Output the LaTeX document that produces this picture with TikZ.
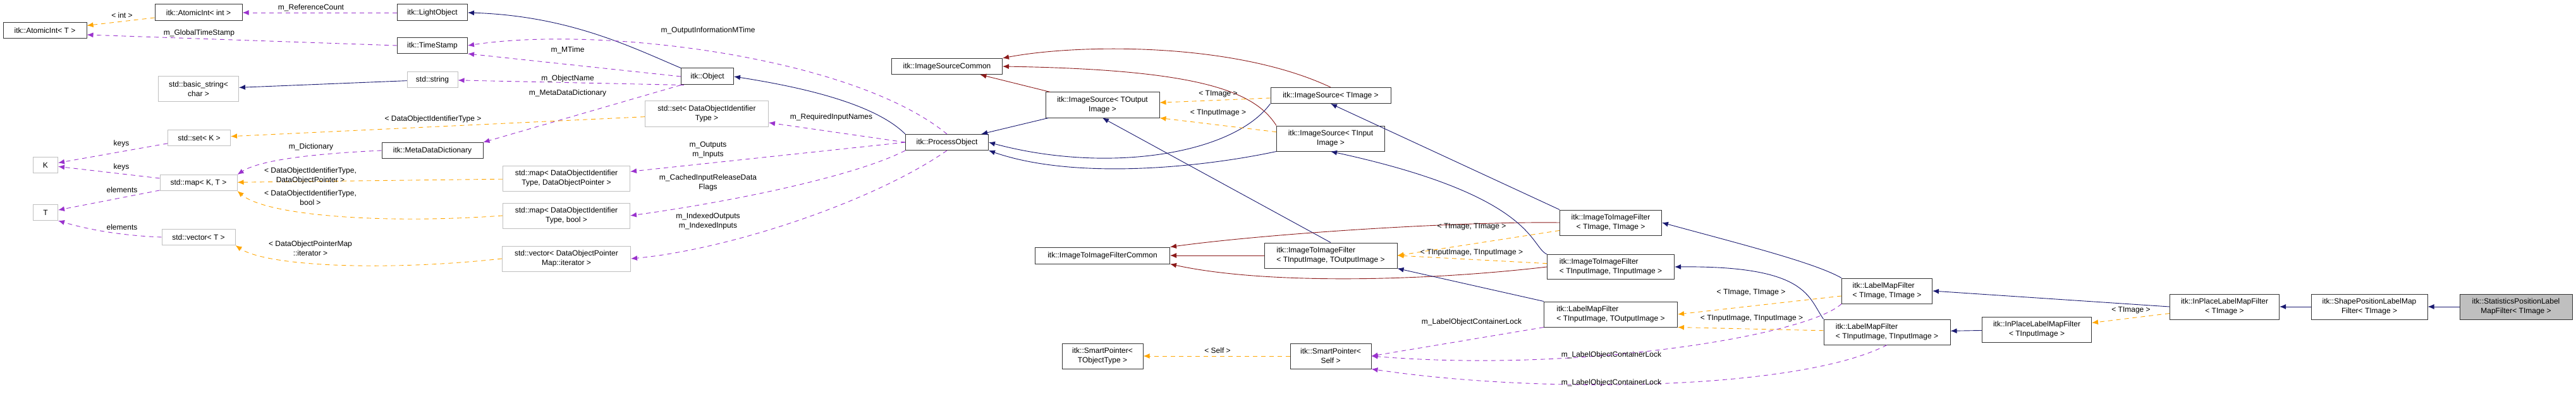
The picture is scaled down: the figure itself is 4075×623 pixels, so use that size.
\documentclass[tikz,border=0pt]{standalone}
\usepackage{fontspec}
\setmainfont{Liberation Sans}
\usetikzlibrary{arrows.meta}
\definecolor{inhcol}{RGB}{25,25,112}
\definecolor{comcol}{RGB}{139,26,26}
\definecolor{tplcol}{RGB}{255,165,0}
\definecolor{usecol}{RGB}{154,50,205}
\definecolor{boxgray}{RGB}{191,191,191}
\tikzset{
  cls/.style={draw=black!80, line width=1pt, fill=white, inner sep=2pt, align=center, font=\fontsize{12}{15}\selectfont},
  ext/.style={cls, draw=boxgray},
  lbl/.style={inner sep=0pt, align=center, font=\fontsize{12}{15}\selectfont},
  tip/.style={-{Latex[length=10pt,width=8pt]}},
  inh/.style={tip, inhcol, line width=0.9pt},
  com/.style={tip, comcol, line width=0.9pt},
  tpl/.style={tip, tplcol, line width=0.9pt, dash pattern=on 7pt off 6pt},
  use/.style={tip, usecol, line width=0.9pt, dash pattern=on 7pt off 6pt}
}
\begin{document}
\begin{tikzpicture}[x=1pt, y=-1pt]
  \useasboundingbox (0,0) rectangle (4075,623);
  % classes, left part
  \node[cls, minimum width=132pt, minimum height=25pt] (atomT) at (71,48) {itk::AtomicInt< T >};
  \node[cls, minimum width=138pt, minimum height=26pt] (atomInt) at (314,20) {itk::AtomicInt< int >};
  \node[cls, minimum width=111pt, minimum height=26pt] (light) at (684,20) {itk::LightObject};
  \node[cls, minimum width=111pt, minimum height=25pt] (stamp) at (684,72) {itk::TimeStamp};
  \node[ext, minimum width=127pt, minimum height=40pt] (bstr) at (314,141) {std::basic\_string<\\char >};
  \node[ext, minimum width=80pt, minimum height=25pt] (str) at (684,126) {std::string};
  \node[ext, minimum width=99pt, minimum height=25pt] (setK) at (315,218) {std::set< K >};
  \node[ext, minimum width=39pt, minimum height=25pt] (K) at (72,261) {K};
  \node[ext, minimum width=122pt, minimum height=25pt] (mapKT) at (314,289) {std::map< K, T >};
  \node[ext, minimum width=39pt, minimum height=25pt] (T) at (72,336) {T};
  \node[ext, minimum width=116pt, minimum height=25pt] (vecT) at (314,375) {std::vector< T >};
  \node[cls, minimum width=160pt, minimum height=25pt] (mdd) at (684,238) {itk::MetaDataDictionary};
  \node[cls, minimum width=83pt, minimum height=26pt] (obj) at (1119,121) {itk::Object};
  \node[ext, minimum width=195pt, minimum height=40pt] (setDoi) at (1118,180) {std::set< DataObjectIdentifier\\Type >};
  \node[ext, minimum width=201pt, minimum height=40pt] (mapPtr) at (896,282) {std::map< DataObjectIdentifier\\Type, DataObjectPointer >};
  \node[ext, minimum width=201pt, minimum height=40pt] (mapBool) at (896,341) {std::map< DataObjectIdentifier\\Type, bool >};
  \node[ext, minimum width=203pt, minimum height=40pt] (vecIt) at (896,409) {std::vector< DataObjectPointer\\Map::iterator >};
  % classes, middle part
  \node[cls, minimum width=175pt, minimum height=25pt] (srcCommon) at (1498,105) {itk::ImageSourceCommon};
  \node[cls, minimum width=131pt, minimum height=25pt] (proc) at (1498,225) {itk::ProcessObject};
  \node[cls, minimum width=180pt, minimum height=40pt] (srcOut) at (1744,166) {itk::ImageSource< TOutput\\Image >};
  \node[cls, minimum width=213pt, minimum height=26pt] (filtCommon) at (1744,404) {itk::ImageToImageFilterCommon};
  \node[cls, minimum width=128pt, minimum height=40pt] (spObj) at (1744,563) {itk::SmartPointer<\\TObjectType >};
  \node[cls, minimum width=190pt, minimum height=25pt] (srcImg) at (2105,151) {itk::ImageSource< TImage >};
  \node[cls, minimum width=171pt, minimum height=40pt] (srcIn) at (2105,219) {itk::ImageSource< TInput\\Image >};
  \node[cls, minimum width=210pt, minimum height=40pt, align=left] (filtInOut) at (2105,404) {itk::ImageToImageFilter\\< TInputImage, TOutputImage >};
  \node[cls, minimum width=128pt, minimum height=40pt] (spSelf) at (2105,563) {itk::SmartPointer<\\Self >};
  \node[cls, minimum width=161pt, minimum height=40pt] (filtImg) at (2548,352) {itk::ImageToImageFilter\\< TImage, TImage >};
  \node[cls, minimum width=201pt, minimum height=39pt, align=left] (filtIn) at (2548,422) {itk::ImageToImageFilter\\< TInputImage, TInputImage >};
  \node[cls, minimum width=211pt, minimum height=40pt, align=left] (lmfInOut) at (2548,497) {itk::LabelMapFilter\\< TInputImage, TOutputImage >};
  % classes, right part
  \node[cls, minimum width=143pt, minimum height=40pt, align=left] (lmfImg) at (2985,460) {itk::LabelMapFilter\\< TImage, TImage >};
  \node[cls, minimum width=200pt, minimum height=40pt, align=left] (lmfIn) at (2985,525) {itk::LabelMapFilter\\< TInputImage, TInputImage >};
  \node[cls, minimum width=173pt, minimum height=40pt] (ipIn) at (3222,521) {itk::InPlaceLabelMapFilter\\< TInputImage >};
  \node[cls, minimum width=173pt, minimum height=40pt] (ipImg) at (3519,485) {itk::InPlaceLabelMapFilter\\< TImage >};
  \node[cls, minimum width=184pt, minimum height=40pt] (shape) at (3748,485) {itk::ShapePositionLabelMap\\Filter< TImage >};
  \node[cls, fill=boxgray, minimum width=178pt, minimum height=40pt] (stats) at (3980,485) {itk::StatisticsPositionLabel\\MapFilter< TImage >};

  % connectors
  \draw[tpl] (atomInt) -- (atomT);
  \draw[use] (stamp.west) -- (atomT.east |- 0,55);
  \draw[use] (light) -- (atomInt);
  \draw[inh] (obj.north west) .. controls (1000,75) and (900,25) .. (light.east);
  \draw[use] (obj.west) -- (stamp.south east);
  \draw[use] (proc.north) .. controls (1350,90) and (950,40) .. (stamp.east);
  \draw[inh] (str) -- (bstr);
  \draw[use] (obj.200) -- (str);
  \draw[use] (obj.south west) -- (mdd.north east);
  \draw[inh] (proc.north west) .. controls (1380,160) and (1250,135) .. (obj.east);
  \draw[tpl] (setDoi) -- (setK);
  \draw[use] (setK) -- (K);
  \draw[use] (mapKT) -- (K);
  \draw[use] (mapKT) -- (T);
  \draw[use] (vecT.west) .. controls (180,372) and (130,360) .. (T.south east);
  \draw[use] (mdd.west) .. controls (450,245) and (400,260) .. (mapKT.north east);
  \draw[tpl] (mapPtr) -- (mapKT);
  \draw[tpl] (mapBool.west) .. controls (600,355) and (420,340) .. (mapKT.south east);
  \draw[tpl] (vecIt.west) .. controls (600,430) and (420,420) .. (vecT.south east);
  \draw[use] (proc.west) -- (setDoi);
  \draw[use] (proc.west) -- (mapPtr);
  \draw[use] (proc.south west) .. controls (1350,280) and (1150,320) .. (mapBool.east);
  \draw[use] (proc.south) .. controls (1380,320) and (1150,395) .. (vecIt.east);
  \draw[com] (srcOut) -- (srcCommon);
  \draw[com] (srcImg.north) .. controls (1950,65) and (1700,70) .. (srcCommon.north east);
  \draw[com] (srcIn.north west) .. controls (1985,145) and (1900,110) .. (srcCommon.east);
  \draw[inh] (srcOut) -- (proc);
  \draw[inh] (srcImg.south west) .. controls (1950,245) and (1750,275) .. (proc.east);
  \draw[inh] (srcIn.south west) .. controls (1900,265) and (1700,285) .. (proc.south east);
  \draw[tpl] (srcImg) -- (srcOut);
  \draw[tpl] (srcIn) -- (srcOut.south east);
  \draw[inh] (filtInOut.north) -- (srcOut.south);
  \draw[com] (filtInOut) -- (filtCommon);
  \draw[com] (filtImg.west) .. controls (2300,350) and (2000,370) .. (filtCommon.north east);
  \draw[com] (filtIn.west) .. controls (2250,445) and (2000,450) .. (filtCommon.south east);
  \draw[inh] (filtImg.north west) -- (srcImg.south);
  \draw[inh] (filtIn.north west) .. controls (2420,390) and (2430,310) .. (srcIn.south);
  \draw[tpl] (filtImg) -- (filtInOut.east);
  \draw[tpl] (filtIn) -- (filtInOut.east);
  \draw[inh] (lmfInOut.north west) -- (filtInOut.south east);
  \draw[tpl] (spSelf) -- (spObj);
  \draw[use] (lmfInOut.south west) -- (spSelf.east);
  \draw[use] (lmfImg.south west) .. controls (2860,530) and (2500,590) .. (spSelf.east);
  \draw[use] (lmfIn.south) .. controls (2850,615) and (2450,625) .. (spSelf.south east);
  \draw[inh] (lmfImg.north west) .. controls (2870,415) and (2750,385) .. (filtImg.east);
  \draw[inh] (lmfIn.north west) .. controls (2860,470) and (2860,420) .. (filtIn.east);
  \draw[tpl] (lmfImg) -- (lmfInOut.east);
  \draw[tpl] (lmfIn) -- (lmfInOut.south east);
  \draw[inh] (ipImg.west) -- (lmfImg.east);
  \draw[inh] (ipIn) -- (lmfIn);
  \draw[tpl] (ipImg) -- (ipIn);
  \draw[inh] (shape) -- (ipImg);
  \draw[inh] (stats) -- (shape);

  % connector labels
  \node[lbl] (lInt) at (193,24) {< int >};
  \node[lbl] (lRef) at (492,12) {m\_ReferenceCount};
  \node[lbl] (lGlob) at (315,52) {m\_GlobalTimeStamp};
  \node[lbl] (lKeysA) at (192,227) {keys};
  \node[lbl] (lKeysB) at (192,264) {keys};
  \node[lbl] (lElemA) at (193,300) {elements};
  \node[lbl] (lElemB) at (193,359) {elements};
  \node[lbl] (lDict) at (492,232) {m\_Dictionary};
  \node[lbl] (lPtr) at (491,278) {< DataObjectIdentifierType,\\DataObjectPointer >};
  \node[lbl] (lBool) at (491,313) {< DataObjectIdentifierType,\\bool >};
  \node[lbl] (lIt) at (491,393) {< DataObjectPointerMap\\::iterator >};
  \node[lbl] (lSet) at (685,188) {< DataObjectIdentifierType >};
  \node[lbl] (lOutMT) at (1120,48) {m\_OutputInformationMTime};
  \node[lbl] (lMT) at (898,79) {m\_MTime};
  \node[lbl] (lName) at (898,124) {m\_ObjectName};
  \node[lbl] (lMdd) at (898,147) {m\_MetaDataDictionary};
  \node[lbl] (lReq) at (1315,185) {m\_RequiredInputNames};
  \node[lbl] (lIO) at (1120,237) {m\_Outputs\\m\_Inputs};
  \node[lbl] (lCache) at (1120,289) {m\_CachedInputReleaseData\\Flags};
  \node[lbl] (lIdx) at (1120,350) {m\_IndexedOutputs\\m\_IndexedInputs};
  \node[lbl] (lImgA) at (1927,149) {< TImage >};
  \node[lbl] (lInA) at (1927,179) {< TInputImage >};
  \node[lbl] (lSelf) at (1926,554) {< Self >};
  \node[lbl] (lImgB) at (2328,359) {< TImage, TImage >};
  \node[lbl] (lInB) at (2328,400) {< TInputImage, TInputImage >};
  \node[lbl] (lLockA) at (2328,509) {m\_LabelObjectContainerLock};
  \node[lbl] (lLockB) at (2549,561) {m\_LabelObjectContainerLock};
  \node[lbl] (lLockC) at (2549,605) {m\_LabelObjectContainerLock};
  \node[lbl] (lImgC) at (2770,463) {< TImage, TImage >};
  \node[lbl] (lInC) at (2771,504) {< TInputImage, TInputImage >};
  \node[lbl] (lImgD) at (3371,491) {< TImage >};
\end{tikzpicture}
\end{document}
